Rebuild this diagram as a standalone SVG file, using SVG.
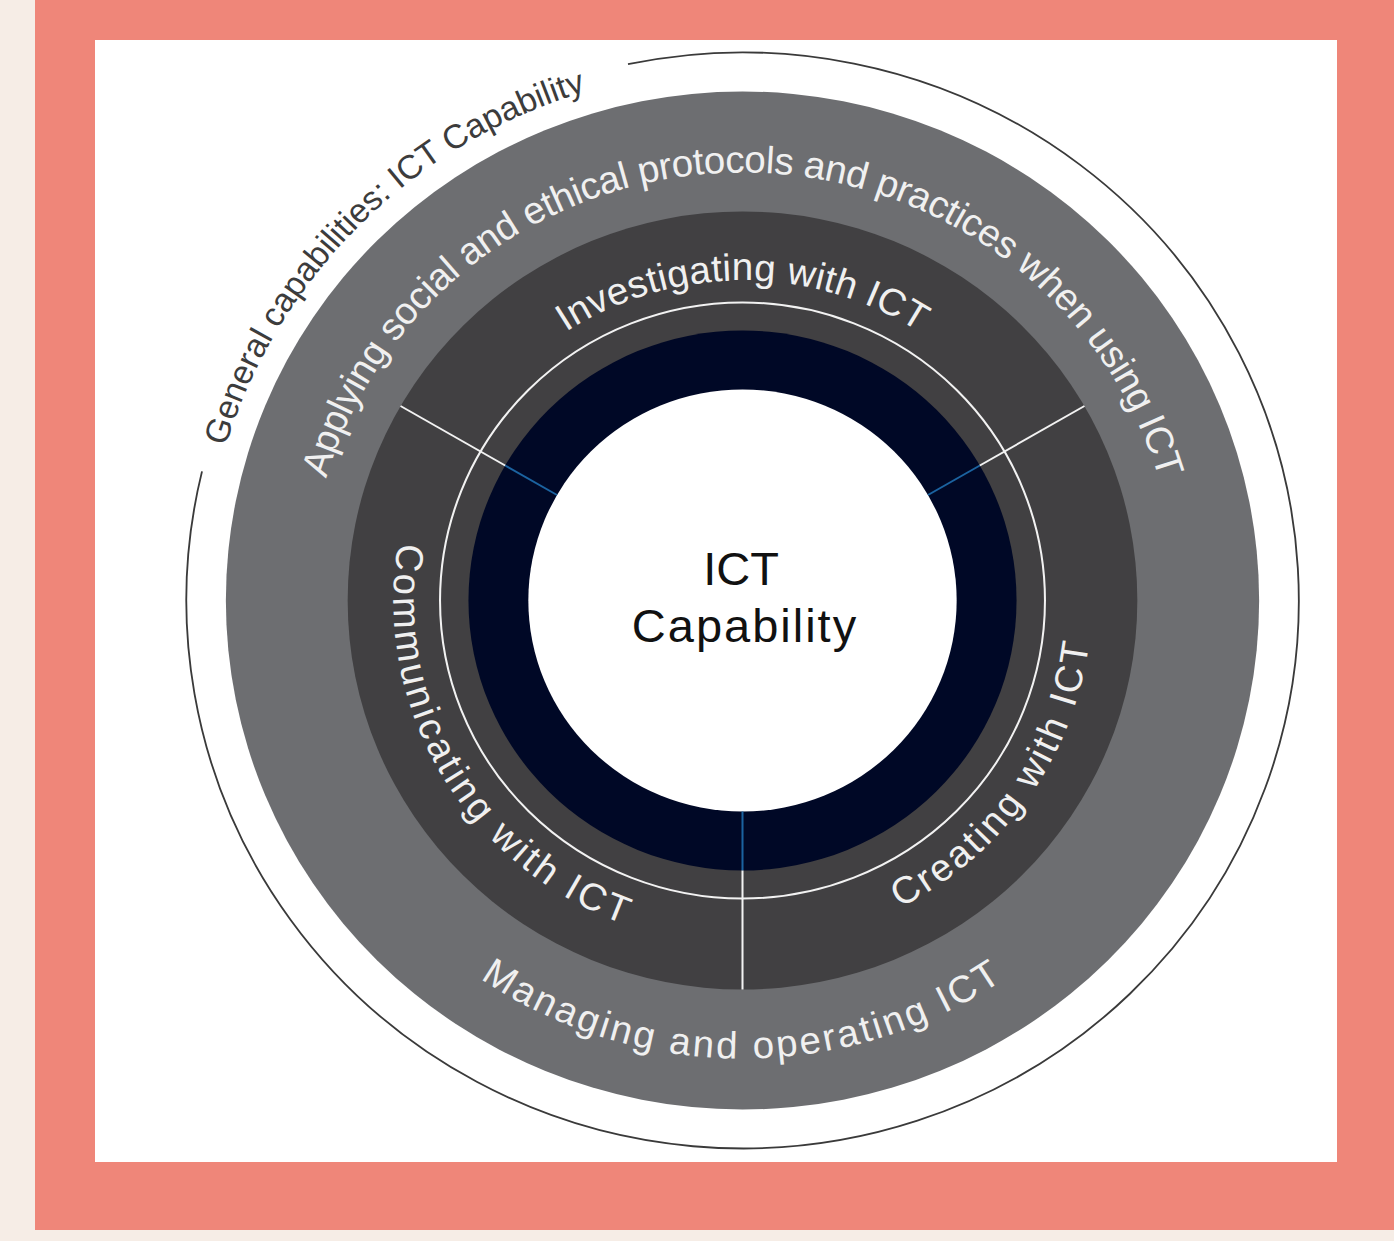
<svg xmlns="http://www.w3.org/2000/svg" xmlns:xlink="http://www.w3.org/1999/xlink" width="1394" height="1241" viewBox="0 0 1394 1241">
  <style>
    .ring-text { font-family: "Liberation Sans", Arial, sans-serif; font-size: 38px; fill: #f0f0f0; }
    .outer-text { font-family: "Liberation Sans", Arial, sans-serif; font-size: 33.5px; fill: #3c3c3c; }
    .center-text { font-family: "Liberation Sans", Arial, sans-serif; font-size: 47px; fill: #111111; text-anchor: middle; }
    .divider { stroke: #f2f2f2; stroke-width: 2; fill: none; }
    .divider-blue { stroke: #1b63a0; stroke-width: 2; fill: none; }
  </style>
  <defs>
    <path id="arc-general" d="M -513.87 137.69 A 532 532 0 0 1 137.69 -513.87"/>
    <path id="arc-applying" d="M -426.37 37.30 A 428 428 0 1 1 426.37 37.30"/>
    <path id="arc-investigating" d="M -277.13 -160 A 320 320 0 0 1 277.13 -160"/>
    <path id="arc-managing" d="M -396.64 229 A 458 458 0 0 0 396.64 229"/>
    <path id="arc-communicating" d="M -299.40 -169.39 A 344 344 0 0 0 3.00 343.99"/>
    <path id="arc-creating" d="M 29.98 342.69 A 344 344 0 0 0 332.28 -89.03"/>
  </defs>

  <g id="background">
    <rect x="0" y="0" width="1394" height="1241" fill="#f6ede6"/>
    <rect x="35" y="0" width="1359" height="1230" fill="#ef8679"/>
    <rect x="95" y="40" width="1242" height="1122" fill="#ffffff"/>
  </g>

  <g transform="translate(742.5,600.5) scale(1.015,1)">
    <g id="rings">
      <circle cx="0" cy="0" r="509" fill="#6d6e71"/>
      <circle cx="0" cy="0" r="389" fill="#414042"/>
      <circle cx="0" cy="0" r="298" fill="none" stroke="#f2f2f2" stroke-width="2"/>
      <circle cx="0" cy="0" r="270" fill="#000826"/>
      <circle cx="0" cy="0" r="211" fill="#ffffff"/>
    </g>

    <g id="connectors">
      <line class="divider-blue" x1="182.73" y1="-105.5" x2="233.83" y2="-135"/>
      <line class="divider" x1="233.83" y1="-135" x2="336.89" y2="-194.5"/>
      <line class="divider-blue" x1="-182.73" y1="-105.5" x2="-233.83" y2="-135"/>
      <line class="divider" x1="-233.83" y1="-135" x2="-336.89" y2="-194.5"/>
      <line class="divider-blue" x1="0" y1="211" x2="0" y2="270"/>
      <line class="divider" x1="0" y1="270" x2="0" y2="389"/>
    </g>

    <g id="node-general-capabilities">
      <path d="M -112.8 -536.3 A 548 548 0 1 1 -532.5 -129.1" fill="none" stroke="#3a3a3a" stroke-width="1.8"/>
      <text class="outer-text" text-anchor="middle"><textPath xlink:href="#arc-general" href="#arc-general" startOffset="50%">General capabilities: ICT Capability</textPath></text>
    </g>

    <g id="node-applying">
      <text class="ring-text" text-anchor="middle" letter-spacing="-0.4"><textPath xlink:href="#arc-applying" href="#arc-applying" startOffset="50%">Applying social and ethical protocols and practices when using ICT</textPath></text>
    </g>

    <g id="node-managing">
      <text class="ring-text" text-anchor="middle" letter-spacing="2.6"><textPath xlink:href="#arc-managing" href="#arc-managing" startOffset="50%">Managing and operating ICT</textPath></text>
    </g>

    <g id="node-investigating">
      <text class="ring-text" text-anchor="middle" letter-spacing="0.2"><textPath xlink:href="#arc-investigating" href="#arc-investigating" startOffset="50%">Investigating with ICT</textPath></text>
    </g>

    <g id="node-communicating">
      <text class="ring-text" text-anchor="middle" letter-spacing="3.1"><textPath xlink:href="#arc-communicating" href="#arc-communicating" startOffset="50%">Communicating with ICT</textPath></text>
    </g>

    <g id="node-creating">
      <text class="ring-text" text-anchor="middle" letter-spacing="2.7"><textPath xlink:href="#arc-creating" href="#arc-creating" startOffset="50%">Creating with ICT</textPath></text>
    </g>
  </g>

  <g id="node-ict-capability">
    <text class="center-text" x="741" y="585">ICT</text>
    <text class="center-text" x="745" y="642" letter-spacing="2">Capability</text>
  </g>
</svg>
